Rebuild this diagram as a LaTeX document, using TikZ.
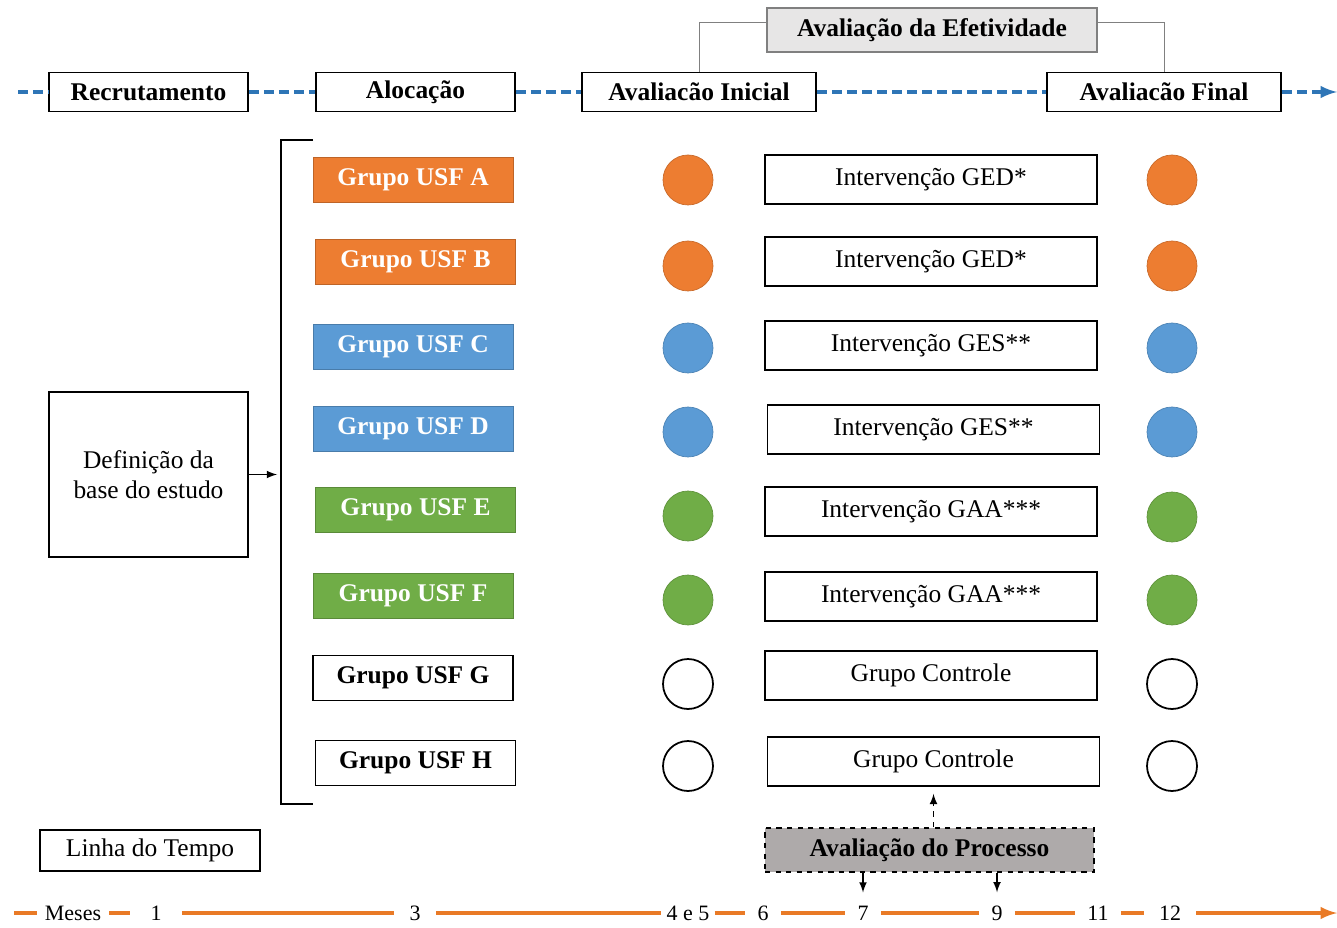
\documentclass[tikz,border=0pt]{standalone}
\usepackage{fontspec}
\setmainfont{Liberation Serif}
\definecolor{laranja}{HTML}{ED7D31}
\definecolor{azul}{HTML}{5B9BD5}
\definecolor{verde}{HTML}{70AD47}
\definecolor{cinzaclaro}{HTML}{E7E6E6}
\definecolor{cinza}{HTML}{AEAAAA}
\definecolor{azullinha}{HTML}{2E75B6}
\definecolor{laranjalinha}{HTML}{E97A26}

\tikzset{
  etapa/.style={draw, line width=1pt, fill=white, inner sep=0pt, minimum width=3.98cm, minimum height=0.78cm, font=\fontsize{14.5}{17}\selectfont\bfseries},
  grupo/.style={draw=#1!80!black, fill=#1, text=white, inner sep=0pt, minimum width=4cm, minimum height=0.9cm, font=\fontsize{14.5}{17}\selectfont\bfseries},
  grupobranco/.style={draw, line width=1pt, fill=white, inner sep=0pt, minimum width=4cm, minimum height=0.9cm, font=\fontsize{14.5}{17}\selectfont\bfseries},
  interv/.style={draw, line width=1pt, inner sep=0pt, minimum width=6.64cm, minimum height=0.98cm, font=\fontsize{14.5}{17}\selectfont},
  bola/.style={circle, draw=#1!85!black, fill=#1, minimum size=1cm, inner sep=0pt},
  bolabranca/.style={circle, draw, line width=1pt, minimum size=1cm, inner sep=0pt},
  mes/.style={inner xsep=0.24cm, inner ysep=0pt, font=\fontsize{12.5}{14}\selectfont},
  linhaazul/.style={azullinha, line width=2.2pt, dash pattern=on 0.2cm off 0.1cm},
  linhalaranja/.style={laranjalinha, line width=2.2pt}
}

\begin{document}
\begin{tikzpicture}[x=0.02cm, y=-0.02cm]
  \useasboundingbox (0,0) rectangle (1337,928);

  % etapas do estudo
  \node[etapa] (recr) at (148.5,92) {Recrutamento};
  \node[etapa] (aloc) at (415.5,92) {Alocação};
  \node[etapa, minimum width=4.68cm] (ini) at (699,92) {Avaliacão Inicial};
  \node[etapa, minimum width=4.68cm] (fin) at (1164,92) {Avaliacão Final};
  \node[etapa, fill=cinzaclaro, draw=gray, minimum width=6.6cm, minimum height=0.88cm] (efet) at (932,30) {Avaliação da Efetividade};
  \coordinate (azul0) at (18,92);
  \coordinate (azul1) at (1337,92);
  \draw[linhaazul] (azul0) -- (recr.west);
  \draw[linhaazul] (recr.east) -- (aloc.west);
  \draw[linhaazul] (aloc.east) -- (ini.west);
  \draw[linhaazul] (ini.east) -- (fin.west);
  \draw[linhaazul, -latex] (fin.east) -- (azul1);
  \draw[gray] ([yshift=0.16cm]efet.west) -| (ini.north);
  \draw[gray] ([yshift=0.16cm]efet.east) -| (fin.north);

  % base do estudo
  \node[draw, line width=1pt, minimum width=3.98cm, minimum height=3.3cm, align=center, font=\fontsize{14.5}{17}\selectfont] (def) at (148.5,474.5) {Definição da\\base do estudo};
  \coordinate (chave) at (277,474.5);
  \draw[line width=1pt, -latex] (def.east) -- (chave);
  \draw[line width=1.2pt] (313,140) -- (281,140) -- (281,804) -- (313,804);

  % grupos
  \node[grupo=laranja] (ga) at (413,180) {Grupo USF A};
  \node[grupo=laranja] (gb) at (415.5,262) {Grupo USF B};
  \node[grupo=azul] (gc) at (413,346.5) {Grupo USF C};
  \node[grupo=azul] (gd) at (413,428.5) {Grupo USF D};
  \node[grupo=verde] (ge) at (415.5,510) {Grupo USF E};
  \node[grupo=verde] (gf) at (413,596) {Grupo USF F};
  \node[grupobranco] (gg) at (413,678) {Grupo USF G};
  \node[grupobranco] (gh) at (415.5,763) {Grupo USF H};

  % avaliacao inicial
  \node[bola=laranja] (ia) at (688,180) {};
  \node[bola=laranja] (ib) at (688,266) {};
  \node[bola=azul] (ic) at (688,348) {};
  \node[bola=azul] (id) at (688,432) {};
  \node[bola=verde] (ie) at (688,516) {};
  \node[bola=verde] (if) at (688,600) {};
  \node[bolabranca] (ig) at (688,684) {};
  \node[bolabranca] (ih) at (688,766) {};

  % intervencoes
  \node[interv] (va) at (931,179.5) {Intervenção GED*};
  \node[interv] (vb) at (931,261.5) {Intervenção GED*};
  \node[interv] (vc) at (931,345.5) {Intervenção GES**};
  \node[interv] (vd) at (933.5,429.5) {Intervenção GES**};
  \node[interv] (ve) at (931,511.5) {Intervenção GAA***};
  \node[interv] (vf) at (931,596.5) {Intervenção GAA***};
  \node[interv] (vg) at (931,675.5) {Grupo Controle};
  \node[interv] (vh) at (933.5,761.5) {Grupo Controle};

  % avaliacao final
  \node[bola=laranja] (fa) at (1172,180) {};
  \node[bola=laranja] (fb) at (1172,266) {};
  \node[bola=azul] (fc) at (1172,348) {};
  \node[bola=azul] (fd) at (1172,432) {};
  \node[bola=verde] (fe) at (1172,517) {};
  \node[bola=verde] (ff) at (1172,600) {};
  \node[bolabranca] (fg) at (1172,684) {};
  \node[bolabranca] (fh) at (1172,766) {};

  % linha do tempo
  \node[draw, line width=1pt, minimum width=4.4cm, minimum height=0.82cm, font=\fontsize{14.5}{17}\selectfont] (linha) at (150,850.5) {Linha do Tempo};
  \node[mes, inner xsep=0.16cm] (meses) at (73,913) {Meses};
  \node[mes, inner xsep=0.4cm] (m1) at (156,913) {1};
  \node[mes, inner xsep=0.3cm] (m3) at (415,913) {3};
  \node[mes, inner xsep=0.1cm] (m45) at (688,913) {4 e 5};
  \node[mes] (m6) at (763,913) {6};
  \node[mes] (m7) at (863,913) {7};
  \node[mes] (m9) at (997,913) {9};
  \node[mes] (m11) at (1098,913) {11};
  \node[mes, inner xsep=0.3cm] (m12) at (1170,913) {12};
  \coordinate (tempo0) at (14,913);
  \coordinate (tempo1) at (1337,913);
  \draw[linhalaranja] (tempo0) -- (meses.west);
  \draw[linhalaranja] (meses.east) -- (m1.west);
  \draw[linhalaranja] (m1.east) -- (m3.west);
  \draw[linhalaranja] (m3.east) -- (m45.west);
  \draw[linhalaranja] (m45.east) -- (m6.west);
  \draw[linhalaranja] (m6.east) -- (m7.west);
  \draw[linhalaranja] (m7.east) -- (m9.west);
  \draw[linhalaranja] (m9.east) -- (m11.west);
  \draw[linhalaranja] (m11.east) -- (m12.west);
  \draw[linhalaranja, -latex] (m12.east) -- (tempo1);

  % avaliacao do processo
  \node[draw, dashed, line width=1pt, fill=cinza, inner sep=0pt, minimum width=6.58cm, minimum height=0.88cm, font=\fontsize{14.5}{17}\selectfont\bfseries] (proc) at (929.5,850) {Avaliação do Processo};
  \draw[dashed, line width=1pt, -latex, shorten >=0.14cm] (proc.north -| vh.south) -- (vh.south);
  \draw[line width=1pt, -latex, shorten >=0.26cm] (proc.south -| m7.north) -- (m7.north);
  \draw[line width=1pt, -latex, shorten >=0.26cm] (proc.south -| m9.north) -- (m9.north);
\end{tikzpicture}
\end{document}
